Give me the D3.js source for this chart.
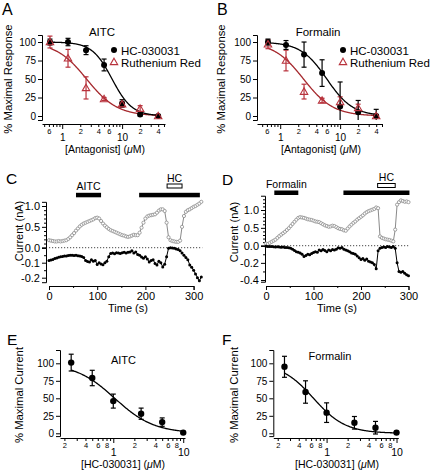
<!DOCTYPE html>
<html><head><meta charset="utf-8">
<script src="https://cdn.jsdelivr.net/npm/d3@7"></script>
<style>
body{margin:0;background:#fff}
svg text{font-family:"Liberation Sans",Arial,Helvetica,sans-serif;fill:#000}
</style>
</head><body>
<svg id="fig" width="431" height="472"></svg>
<script>
// ---------------- DATA ----------------
const concAB = [0.625, 1.25, 2.5, 5, 10, 20, 40];
const aitcHC = [100, 100, 89, 69, 17, 2, 0];
const aitcHCerr = [4, 5, 6, 8, 5, 2, 1];
const aitcRR = [100, 78, 38, 23, 16, 10, 0];
const aitcRRerr = [8, 12, 15, 2, 3, 4, 1];
const formHC = [100, 96, 83, 58, 13, 5, 0];
const formHCerr = [4, 6, 17, 18, 33, 16, 9];
const formRR = [97, 75, 33, 21, 19, 11, 0];
const formRRerr = [6, 14, 10, 3, 7, 5, 2];
// Hill fits [IC50, slope]
const fitAitcHC = [6.8, 2.6];
const fitAitcRR = [2.55, 1.7];
const fitFormHC = [6.0, 2.0];
const fitFormRR = [2.45, 1.75];

const concEF = [0.25, 0.5, 1, 2.5, 5, 10];
const aitcCur = [101, 79, 46, 28, 16, 1];
const aitcCurErr = [12, 11, 10, 8, 6, 0];
const formCur = [95, 59, 29.5, 15, 8, 1];
const formCurErr = [15, 16, 14, 9, 9, 0];
const fitAitcCur = [1.05, 1.55];
const fitFormCur = [0.65, 1.9];

const yTicksPct = [0, 25, 50, 75, 100];

// Panel C traces (time s, current nA)
const timeC = [0,4,8,12,16,20,24,28,32,36,40,44,48,52,56,60,64,68,72,76,80,84,88,92,96,100,104,108,112,116,120,124,128,132,136,140,144,148,152,156,160,164,168,172,176,180,184,188,192,196,200,204,208,212,216,220,224,228,232,236,240,244,248,252,256,260,264,268,272,276,280,284,288,292,296,300,304,308,312,316];
const outC = [0.18,0.17,0.16,0.15,0.15,0.16,0.15,0.16,0.17,0.18,0.21,0.25,0.30,0.35,0.41,0.46,0.51,0.55,0.58,0.60,0.62,0.64,0.66,0.68,0.71,0.72,0.70,0.64,0.58,0.53,0.49,0.45,0.42,0.40,0.38,0.36,0.34,0.32,0.30,0.29,0.27,0.26,0.27,0.29,0.31,0.30,0.30,0.36,0.48,0.60,0.70,0.75,0.77,0.78,0.79,0.80,0.84,0.89,0.92,0.92,0.88,0.60,0.25,0.18,0.16,0.15,0.14,0.14,0.17,0.50,0.76,0.86,0.90,0.92,0.95,0.98,1.00,1.03,1.06,1.10];
const inC = [-0.085,-0.082,-0.078,-0.072,-0.068,-0.064,-0.06,-0.058,-0.056,-0.055,-0.052,-0.05,-0.05,-0.052,-0.05,-0.053,-0.055,-0.058,-0.065,-0.085,-0.092,-0.096,-0.08,-0.09,-0.085,-0.112,-0.1,-0.108,-0.114,-0.1,-0.09,-0.06,-0.038,-0.036,-0.04,-0.033,-0.035,-0.038,-0.034,-0.03,-0.036,-0.03,-0.028,-0.02,-0.035,-0.028,-0.045,-0.05,-0.062,-0.07,-0.06,-0.075,-0.095,-0.085,-0.08,-0.105,-0.115,-0.09,-0.1,-0.128,-0.11,-0.06,-0.004,0.0,-0.002,-0.004,-0.008,-0.012,-0.02,-0.035,-0.05,-0.065,-0.08,-0.115,-0.13,-0.15,-0.175,-0.2,-0.22,-0.195];
// Panel D traces
const timeD = [0,4,8,12,16,20,24,28,32,36,40,44,48,52,56,60,64,68,72,76,80,84,88,92,96,100,104,108,112,116,120,124,128,132,136,140,144,148,152,156,160,164,168,172,176,180,184,188,192,196,200,204,208,212,216,220,224,228,232,236,240,244,248,252,256,260,264,268,272,276,280,284,288,292,296,300];
const outD = [0.06,0.05,0.08,0.11,0.14,0.17,0.22,0.27,0.31,0.35,0.39,0.44,0.49,0.55,0.61,0.67,0.73,0.78,0.80,0.79,0.78,0.76,0.74,0.73,0.72,0.70,0.68,0.67,0.66,0.63,0.60,0.57,0.55,0.53,0.54,0.56,0.55,0.52,0.49,0.47,0.46,0.43,0.42,0.48,0.54,0.59,0.64,0.68,0.73,0.77,0.81,0.85,0.90,0.94,0.97,0.99,1.01,1.03,1.07,1.05,0.26,0.22,0.20,0.18,0.17,0.16,0.14,0.12,0.45,1.15,1.22,1.27,1.25,1.23,1.24,1.22];
const inD = [-0.005,-0.008,-0.01,-0.01,-0.012,-0.015,-0.012,-0.015,-0.018,-0.015,-0.02,-0.022,-0.025,-0.03,-0.04,-0.055,-0.07,-0.075,-0.085,-0.1,-0.125,-0.115,-0.1,-0.105,-0.09,-0.08,-0.07,-0.075,-0.05,-0.06,-0.045,-0.055,-0.07,-0.05,-0.06,-0.045,-0.05,-0.04,-0.025,-0.03,-0.02,-0.04,-0.05,-0.06,-0.07,-0.085,-0.09,-0.1,-0.12,-0.14,-0.16,-0.15,-0.17,-0.155,-0.18,-0.19,-0.2,-0.22,-0.27,-0.06,-0.03,-0.02,-0.015,-0.02,-0.01,-0.015,-0.02,-0.01,-0.03,-0.2,-0.3,-0.31,-0.3,-0.32,-0.34,-0.35];
// application bars [start, end] in s
const barsC = [[56, 108], [187, 313]];
const hcBarC = [245, 276];
const barsD = [[17.5, 68], [163, 302]];
const hcBarD = [235, 272];
const timeTicks = [0, 100, 200, 300];

// ---------------- HELPERS ----------------
const svg = d3.select("#fig");
const RED = "#b8323c", RED_D = "#a5282d";
const FONT = '"Liberation Sans",Arial,Helvetica,sans-serif';

function txt(g, x, y, s, size, anchor, extra) {
  const t = g.append("text").attr("x", x).attr("y", y).attr("font-size", size)
    .attr("text-anchor", anchor || "start");
  if (extra) extra(t); else t.text(s);
  return t;
}
function mant(d) { return Math.round(d / Math.pow(10, Math.floor(Math.log10(d) + 1e-9))); }

function logAxis(g, x, y, labelSet, minorSize, majorSize, minorY, majorY) {
  const [lo, hi] = x.domain();
  const ticks = x.ticks().filter(v => v >= lo && v <= hi);
  const ax = d3.axisBottom(x).tickValues(ticks).tickSizeOuter(0).tickFormat("");
  const gg = g.append("g").attr("transform", `translate(0,${y})`).call(ax);
  gg.select(".domain").attr("stroke", "#000").attr("stroke-width", 1);
  gg.selectAll(".tick line").attr("stroke", "#000").attr("y2", d => mant(d) === 1 ? 5 : 3);
  gg.selectAll(".tick text").remove();
  gg.selectAll(".tick").each(function (d) {
    const m = mant(d), t = d3.select(this);
    if (m === 1) {
      t.append("text").attr("y", majorY).attr("text-anchor", "middle").attr("font-size", majorSize)
        .attr("font-family", FONT).attr("fill", "#000").text(d >= 1 ? d3.format("d")(d) : d);
    } else if (labelSet.includes(m)) {
      t.append("text").attr("y", minorY).attr("text-anchor", "middle").attr("font-size", minorSize)
        .attr("font-family", FONT).attr("fill", "#000").text(m);
    }
  });
}
function linAxisLeft(g, y, x, values, fmt, size, tickLen) {
  const ax = d3.axisLeft(y).tickValues(values).tickSizeOuter(0).tickSize(tickLen || 4).tickPadding(2).tickFormat(fmt);
  const gg = g.append("g").attr("transform", `translate(${x},0)`).call(ax);
  gg.select(".domain").attr("stroke", "#000").attr("stroke-width", 1);
  gg.selectAll(".tick line").attr("stroke", "#000");
  gg.selectAll(".tick text").attr("font-size", size).attr("font-family", FONT).attr("fill", "#000");
  return gg;
}
function minorLeft(g, y, x, values, len) {
  const ax = d3.axisLeft(y).tickValues(values).tickSizeOuter(0).tickSize(len).tickFormat("");
  const gg = g.append("g").attr("transform", `translate(${x},0)`).call(ax);
  gg.select(".domain").remove();
  gg.selectAll(".tick line").attr("stroke", "#000");
}
function hill(c, p) { return 100 / (1 + Math.pow(c / p[0], p[1])); }

function errBars(g, x, y, xs, ys, es, color, capW) {
  const ymin = y.domain()[0];
  xs.forEach((c, i) => {
    if (!es[i]) return;
    const lo = Math.max(ys[i] - es[i], ymin), hi = ys[i] + es[i];
    const cx = x(c);
    g.append("line").attr("x1", cx).attr("x2", cx).attr("y1", y(lo)).attr("y2", y(hi))
      .attr("stroke", color).attr("stroke-width", 1.2);
    g.append("line").attr("x1", cx - capW / 2).attr("x2", cx + capW / 2).attr("y1", y(hi)).attr("y2", y(hi))
      .attr("stroke", color).attr("stroke-width", 1.2);
    if (lo > ymin) g.append("line").attr("x1", cx - capW / 2).attr("x2", cx + capW / 2).attr("y1", y(lo)).attr("y2", y(lo))
      .attr("stroke", color).attr("stroke-width", 1.2);
  });
}
function fitCurve(g, x, y, lo, hi, p, color) {
  const cs = d3.range(0, 201).map(i => lo * Math.pow(hi / lo, i / 200));
  g.append("path").datum(cs).attr("fill", "none").attr("stroke", color).attr("stroke-width", 1.3)
    .attr("d", d3.line().x(c => x(c)).y(c => y(hill(c, p))));
}
const triPath = d3.symbol().type(d3.symbolTriangle).size(24);

function doseTitleX(g, cx, yb) {
  txt(g, cx, yb, null, 10.5, "middle", t => {
    t.append("tspan").text("[Antagonist] (");
    t.append("tspan").attr("font-style", "italic").text("μ");
    t.append("tspan").text("M)");
  });
}
function hcTitleX(g, cx, yb) {
  txt(g, cx, yb, null, 10.5, "middle", t => {
    t.append("tspan").text("[HC-030031] (");
    t.append("tspan").attr("font-style", "italic").text("μ");
    t.append("tspan").text("M)");
  });
}
function vTitle(g, cx, cy, s, size) {
  g.append("text").attr("transform", `translate(${cx},${cy}) rotate(-90)`).attr("text-anchor", "middle")
    .attr("dominant-baseline", "central").attr("font-size", size).text(s);
}

// ---------------- PANELS A & B ----------------
function panelAB(opt) {
  const g = svg.append("g");
  const x = d3.scaleLog().domain(opt.xdom).range(opt.xr);
  const y = d3.scaleLinear().domain([-5.4, 109.5]).range([120, 35]);
  linAxisLeft(g, y, opt.xr[0], yTicksPct, d3.format("d"), 10, 4);
  logAxis(g, x, 124, [2, 4, 6], 7.5, 10, 10, 17);
  doseTitleX(g, opt.titleCx, 153);
  vTitle(g, opt.vtx, 79, "% Maximal Response", 11.3);
  txt(g, opt.letterX, 15, opt.letter, 16);
  txt(g, opt.headCx, 36, opt.head, 11.5, "middle");
  // curves
  fitCurve(g, x, y, 0.625, 40, opt.fitRR, RED_D);
  fitCurve(g, x, y, 0.625, 40, opt.fitHC, "#000");
  errBars(g, x, y, concAB, opt.rr, opt.rrErr, RED, 5);
  errBars(g, x, y, concAB, opt.hc, opt.hcErr, "#000", 5);
  g.selectAll(null).data(concAB).enter().append("circle")
    .attr("cx", c => x(c)).attr("cy", (c, i) => y(opt.hc[i])).attr("r", 3).attr("fill", "#000");
  g.selectAll(null).data(concAB).enter().append("path").attr("d", triPath)
    .attr("transform", (c, i) => `translate(${x(c)},${y(opt.rr[i]) + 0.6})`)
    .attr("fill", "none").attr("stroke", RED).attr("stroke-width", 1.1);
  // legend
  g.append("circle").attr("cx", opt.legX).attr("cy", 50).attr("r", 3).attr("fill", "#000");
  txt(g, opt.legX + 7, 54.5, "HC-030031", 11.5);
  g.append("path").attr("d", triPath).attr("transform", `translate(${opt.legX},${62.5})`)
    .attr("fill", "none").attr("stroke", RED).attr("stroke-width", 1.1);
  txt(g, opt.legX + 7, 66.5, "Ruthenium Red", 11.5);
}
panelAB({ xdom: [0.46, 52], xr: [42, 165], titleCx: 105, vtx: 8, letter: "A", letterX: 2, head: "AITC", headCx: 102,
  hc: aitcHC, hcErr: aitcHCerr, rr: aitcRR, rrErr: aitcRRerr, fitHC: fitAitcHC, fitRR: fitAitcRR, legX: 114 });
panelAB({ xdom: [0.41, 50], xr: [257, 382], titleCx: 321, vtx: 221, letter: "B", letterX: 217, head: "Formalin", headCx: 318,
  hc: formHC, hcErr: formHCerr, rr: formRR, rrErr: formRRerr, fitHC: fitFormHC, fitRR: fitFormRR, legX: 343 });

// ---------------- PANELS C & D ----------------
function panelCD(opt) {
  const g = svg.append("g");
  const x = d3.scaleLinear().domain([0, 300]).range(opt.xr);
  const yUp = d3.scaleLinear().domain([0, opt.upTop]).range([opt.y0, opt.y0 - opt.upPx * opt.upTop]);
  const yDn = d3.scaleLinear().domain([opt.dnBot, 0]).range([opt.y0 - opt.dnPx * opt.dnBot, opt.y0]);
  const fmt = d => (d < 0 ? "-" : "") + Math.abs(d).toFixed(1);
  const ax = opt.axX;
  linAxisLeft(g, yUp, ax, [0, 0.5, 1.0], fmt, 11, 4);
  linAxisLeft(g, yDn, ax, opt.dnTicks, fmt, 11, 4);
  minorLeft(g, yUp, ax, opt.upMinor, 2);
  minorLeft(g, yDn, ax, opt.dnMinor, 2);
  // x axis
  const xa = d3.axisBottom(x).tickValues(timeTicks).tickSizeOuter(0).tickSize(4).tickPadding(2).tickFormat(d3.format("d"));
  const xg = g.append("g").attr("transform", `translate(0,${opt.xAxisY})`).call(xa);
  xg.select(".domain").attr("stroke", "#000");
  xg.selectAll(".tick line").attr("stroke", "#000");
  xg.selectAll(".tick text").attr("font-size", 11).attr("font-family", FONT).attr("fill", "#000");
  const xm = d3.axisBottom(x).tickValues([50, 150, 250]).tickSizeOuter(0).tickSize(2).tickFormat("");
  const xmg = g.append("g").attr("transform", `translate(0,${opt.xAxisY})`).call(xm);
  xmg.select(".domain").remove(); xmg.selectAll(".tick line").attr("stroke", "#000");
  txt(g, opt.xTitleCx, 312, "Time (s)", 11, "middle");
  vTitle(g, opt.vtx, opt.vty, "Current (nA)", 11);
  txt(g, opt.letterX, opt.letterY, opt.letter, 15.5);
  // zero line
  g.append("line").attr("x1", x(0)).attr("x2", x(opt.tEnd)).attr("y1", yUp(0)).attr("y2", yUp(0))
    .attr("stroke", "#333").attr("stroke-width", 0.9).attr("stroke-dasharray", "1.2,1.8");
  // traces
  const outPts = opt.time.map((t, i) => [t, opt.out[i]]);
  const inPts = opt.time.map((t, i) => [t, opt.inn[i]]);
  g.append("path").datum(outPts).attr("fill", "none").attr("stroke", "#8a8a8a").attr("stroke-width", 1)
    .attr("d", d3.line().x(d => x(d[0])).y(d => yUp(d[1])));
  g.selectAll(null).data(outPts).enter().append("circle").attr("cx", d => x(d[0])).attr("cy", d => yUp(d[1]))
    .attr("r", 1.6).attr("fill", "#fff").attr("stroke", "#8a8a8a").attr("stroke-width", 0.8);
  g.append("path").datum(inPts).attr("fill", "none").attr("stroke", "#000").attr("stroke-width", 1)
    .attr("d", d3.line().x(d => x(d[0])).y(d => yDn(d[1])));
  g.selectAll(null).data(inPts).enter().append("circle").attr("cx", d => x(d[0])).attr("cy", d => yDn(d[1]))
    .attr("r", 1.5).attr("fill", "#000");
  // bars
  opt.bars.forEach(b => g.append("rect").attr("x", x(b[0])).attr("width", x(b[1]) - x(b[0]))
    .attr("y", opt.barY).attr("height", 4.5).attr("fill", "#000"));
  g.append("rect").attr("x", x(opt.hc[0])).attr("width", x(opt.hc[1]) - x(opt.hc[0]))
    .attr("y", opt.hcY).attr("height", 4).attr("fill", "#fff").attr("stroke", "#000").attr("stroke-width", 1);
  txt(g, (x(opt.hc[0]) + x(opt.hc[1])) / 2, opt.hcY - 2.5, "HC", 10.5, "middle");
  txt(g, (x(opt.bars[0][0]) + x(opt.bars[0][1])) / 2, opt.barY - 2.5, opt.agent, 10.5, "middle");
}
panelCD({ xr: [49, 193.6], axX: 46, y0: 247.7, upPx: 41.7, upTop: 1.1, dnPx: 150, dnBot: -0.23,
  dnTicks: [-0.1, -0.2], upMinor: [0.1, 0.2, 0.3, 0.4, 0.6, 0.7, 0.8, 0.9], dnMinor: [-0.05, -0.15],
  xAxisY: 286, xTitleCx: 128, vtx: 19, vty: 231, letter: "C", letterX: 6, letterY: 184, tEnd: 318,
  time: timeC, out: outC, inn: inC, bars: barsC, hc: hcBarC, barY: 192.8, hcY: 184, agent: "AITC" });
panelCD({ xr: [266, 408.5], axX: 265, y0: 245.7, upPx: 35.7, upTop: 1.4, dnPx: 85.8, dnBot: -0.42,
  dnTicks: [-0.2, -0.4], upMinor: [0.1, 0.2, 0.3, 0.4, 0.6, 0.7, 0.8, 0.9, 1.1, 1.2, 1.3], dnMinor: [-0.1, -0.3],
  xAxisY: 286, xTitleCx: 337, vtx: 234, vty: 232, letter: "D", letterX: 222, letterY: 185, tEnd: 302,
  time: timeD, out: outD, inn: inD, bars: barsD, hc: hcBarD, barY: 190.5, hcY: 183.5, agent: "Formalin" });

// ---------------- PANELS E & F ----------------
function panelEF(opt) {
  const g = svg.append("g");
  const x = d3.scaleLog().domain([0.173, 10.6]).range(opt.xr);
  const y = d3.scaleLinear().domain([-4, 119]).range([436.1, 350]);
  linAxisLeft(g, y, opt.xr[0], yTicksPct, d3.format("d"), 10, 4);
  logAxis(g, x, 438, [2, 4, 6, 8], 7.5, 10.5, 10, 17.5);
  hcTitleX(g, opt.titleCx, 468);
  vTitle(g, opt.vtx, 395, "% Maximal Current", 11.3);
  txt(g, opt.letterX, 345, opt.letter, 15.5);
  txt(g, opt.headCx, opt.headY, opt.head, 11, "middle");
  fitCurve(g, x, y, 0.25, 10, opt.fit, "#000");
  errBars(g, x, y, concEF, opt.v, opt.e, "#000", 5);
  g.selectAll(null).data(concEF).enter().append("circle")
    .attr("cx", c => x(c)).attr("cy", (c, i) => y(opt.v[i])).attr("r", 3.2).attr("fill", "#000");
}
panelEF({ xr: [60, 185], titleCx: 123, vtx: 19, letter: "E", letterX: 7, head: "AITC", headCx: 123.5, headY: 364,
  v: aitcCur, e: aitcCurErr, fit: fitAitcCur });
panelEF({ xr: [273.3, 398.3], titleCx: 337, vtx: 234, letter: "F", letterX: 222, head: "Formalin", headCx: 330, headY: 360,
  v: formCur, e: formCurErr, fit: fitFormCur });
</script>
</body></html>
